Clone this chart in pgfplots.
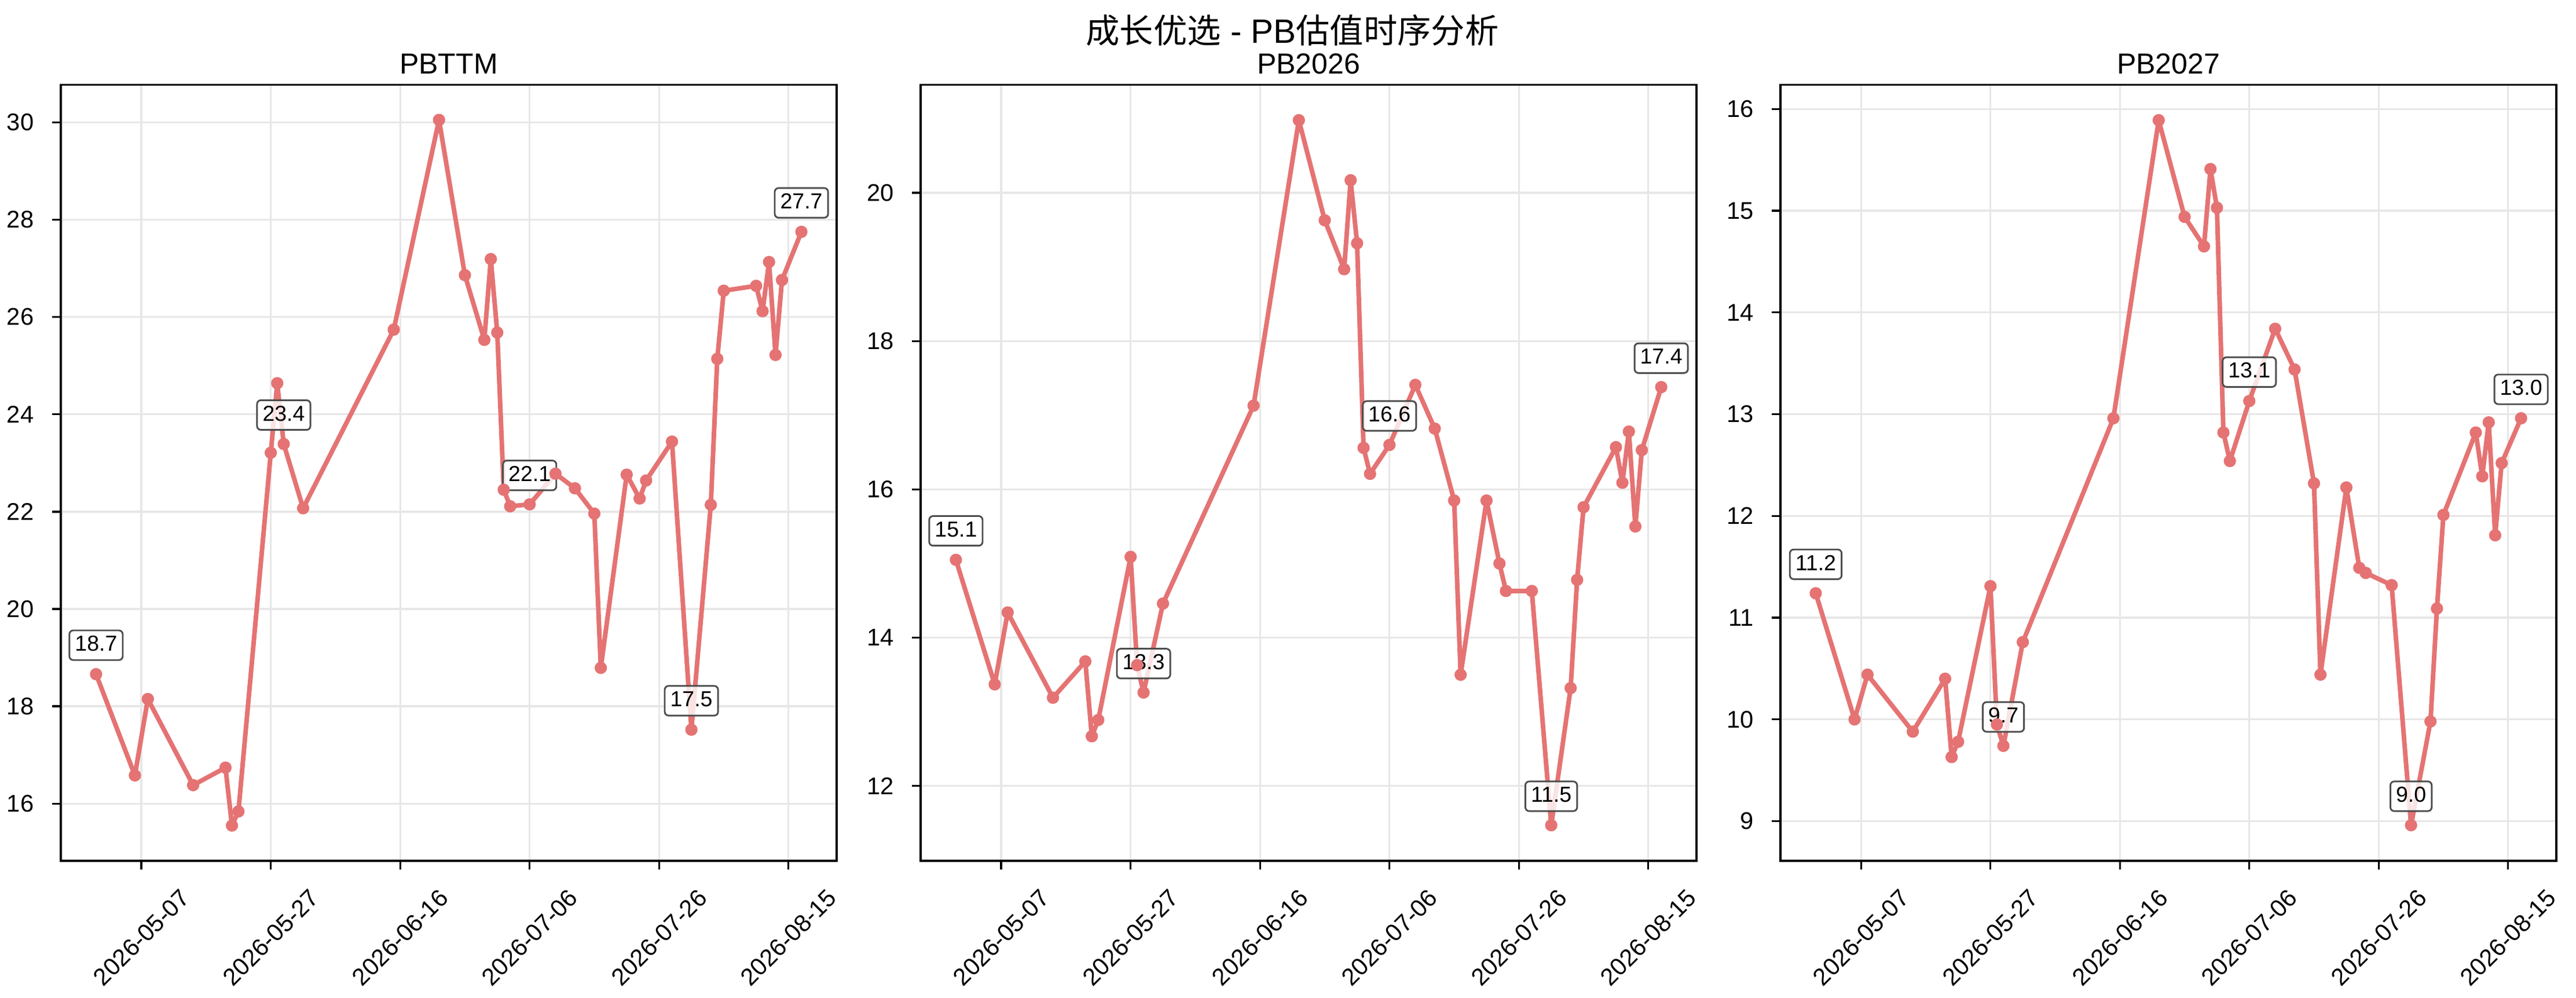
\documentclass[border=0pt]{standalone}
\usepackage{fontspec}
\setmainfont{Liberation Sans}
\newfontfamily\cjk{Noto Sans CJK SC}
\usepackage{pgfplots}
\usepackage{pgfplotstable}
\pgfplotsset{compat=1.18}

\definecolor{linered}{RGB}{229,115,115}
\definecolor{gridgray}{RGB}{231,231,231}
\definecolor{boxedge}{RGB}{77,77,77}

% days counted from 2026-05-07
\pgfplotstableread{
day  pbttm  pb2026 pb2027
-7   18.66  15.05  11.24
-1   16.58  13.37  10.00
1    18.15  14.34  10.44
8    16.38  13.19  9.88
13   16.74  13.68  10.40
14   15.55  12.67  9.63
15   15.84  12.89  9.78
20   23.21  15.09  11.31
21   24.64  13.63  9.95
22   23.39  13.26  9.74
25   22.07  14.46  10.76
39   25.74  17.13  12.96
46   30.05  20.98  15.89
50   26.86  19.63  14.94
53   25.53  18.97  14.65
54   27.19  20.17  15.41
55   25.68  19.32  15.03
56   22.45  16.56  12.82
57   22.11  16.21  12.54
60   22.15  16.60  13.13
64   22.78  17.41  13.84
67   22.48  16.82  13.44
70   21.96  15.85  12.32
71   18.79  13.50  10.44
75   22.76  15.85  12.28
77   22.27  15.00  11.49
78   22.64  14.63  11.44
82   23.44  14.63  11.32
85   17.52  11.47  8.96
88   22.14  13.32  9.98
89   25.14  14.78  11.09
90   26.54  15.76  12.01
95   26.64  16.57  12.82
96   26.12  16.09  12.39
97   27.13  16.78  12.92
98   25.22  15.50  11.81
99   26.76  16.53  12.52
102  27.75  17.38  12.96
}\pbdata

\pgfplotsset{
  pbpanel/.style={
    scale only axis,
    width=321.6pt, height=321.8pt,
    xmin=-12.45, xmax=107.45,
    xtick={0,20,40,60,80,100},
    xticklabels={2026-05-07,2026-05-27,2026-06-16,2026-07-06,2026-07-26,2026-08-15},
    tick align=outside,
    xtick pos=bottom, ytick pos=left,
    major tick length=3.5pt,
    every tick/.style={black, line width=0.8pt},
    axis line style={line width=0.8pt},
    grid=major,
    major grid style={line width=0.8pt, color=gridgray},
    tick label style={font=\fontsize{10}{12}\selectfont},
    xticklabel style={anchor=center, inner sep=0pt, yshift=-28.3pt, rotate=45},
    yticklabel style={anchor=east, inner sep=0pt, xshift=-7.5pt},
    /pgf/number format/assume math mode=true,
    title style={at={(0.5,1)}, anchor=base, inner sep=0pt, yshift=-1.4pt,
      font=\fontsize{12}{14}\selectfont},
  },
  pbline/.style={
    color=linered, line width=1.9pt, line join=round,
    mark=*, mark size=2.3pt,
    mark options={solid, fill=linered, draw=linered, line width=0.5pt},
  },
}
\tikzset{
  lbl/.style={
    yshift=12pt, draw=boxedge, line width=0.7pt, fill=white,
    fill opacity=0.8, text opacity=1, rounded corners=1.6pt,
    inner xsep=2.3pt, inner ysep=2.2pt, text height=6.4pt, text depth=1.5pt,
    font=\fontsize{9}{10}\selectfont,
  },
}

\begin{document}
\begin{tikzpicture}
\useasboundingbox (-25.2pt,-56.64pt) rectangle (1042.56pt,356.88pt);

\begin{axis}[pbpanel, at={(0pt,0pt)}, anchor=south west,
  title={PBTTM}, ymin=14.825, ymax=30.775, ytick={16,18,...,30}]
  \addplot[pbline] table[x=day, y=pbttm] {\pbdata};
  \node[lbl] at (axis cs:-7,18.66) {18.7};
  \node[lbl] at (axis cs:22,23.39) {23.4};
  \node[lbl] at (axis cs:60,22.15) {22.1};
  \node[lbl] at (axis cs:85,17.52) {17.5};
  \node[lbl] at (axis cs:102,27.75) {27.7};
\end{axis}

\begin{axis}[pbpanel, at={(356.4pt,0pt)}, anchor=south west,
  title={PB2026}, ymin=10.99, ymax=21.46, ytick={12,14,...,20}]
  \addplot[pbline] table[x=day, y=pb2026] {\pbdata};
  \node[lbl] at (axis cs:-7,15.05) {15.1};
  \node[lbl] at (axis cs:22,13.26) {13.3};
  \node[lbl] at (axis cs:60,16.60) {16.6};
  \node[lbl] at (axis cs:85,11.47) {11.5};
  \node[lbl] at (axis cs:102,17.38) {17.4};
\end{axis}

\begin{axis}[pbpanel, at={(712.8pt,0pt)}, anchor=south west,
  title={PB2027}, ymin=8.61, ymax=16.24, ytick={9,10,...,16}]
  \addplot[pbline] table[x=day, y=pb2027] {\pbdata};
  \node[lbl] at (axis cs:-7,11.24) {11.2};
  \node[lbl] at (axis cs:22,9.74) {9.7};
  \node[lbl] at (axis cs:60,13.13) {13.1};
  \node[lbl] at (axis cs:85,8.96) {9.0};
  \node[lbl] at (axis cs:102,12.96) {13.0};
\end{axis}

\node[anchor=base, font=\fontsize{14}{16}\selectfont] at (510.5pt,338.9pt)
  {{\cjk 成长优选} - PB{\cjk 估值时序分析}};
\end{tikzpicture}
\end{document}
